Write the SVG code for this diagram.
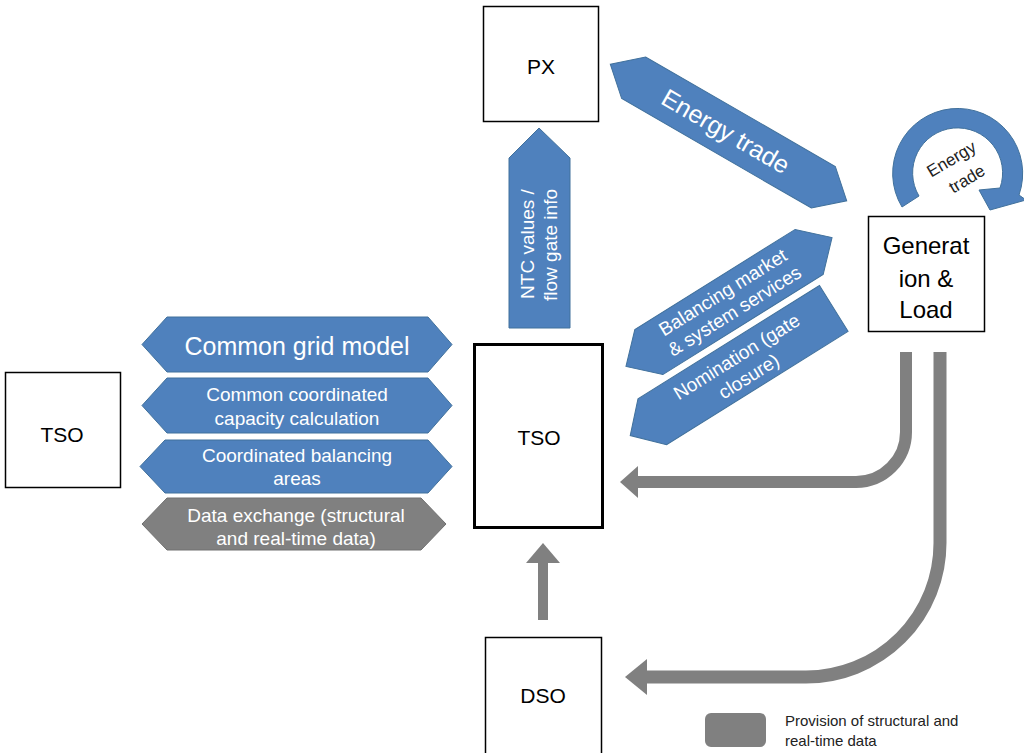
<svg xmlns="http://www.w3.org/2000/svg" width="1024" height="753" viewBox="0 0 1024 753">
<style>
.box{fill:#fff;stroke:#000;stroke-width:1.5}
.lbl{font-family:"Liberation Sans",Arial,sans-serif;fill:#000;text-anchor:middle}
.blue{fill:#4F81BD;stroke:#41719C;stroke-width:1}
.grayhex{fill:#808080;stroke:#707070;stroke-width:1}
.wt{font-family:"Liberation Sans",Arial,sans-serif;fill:#fff;text-anchor:middle}
.dk{font-family:"Liberation Sans",Arial,sans-serif;fill:#222;text-anchor:middle}
.gline{fill:none;stroke:#808080}
.ghead{fill:#808080}
</style>
<rect width="1024" height="753" fill="#fff"/>

<g id="node-px">
<rect class="box" x="483.5" y="6.5" width="115" height="115"/>
<text class="lbl" x="541" y="74" font-size="21">PX</text>
</g>
<g id="node-tso-left">
<rect class="box" x="5.5" y="372.5" width="115" height="115"/>
<text class="lbl" x="62" y="442" font-size="21">TSO</text>
</g>
<g id="node-tso">
<rect x="474.5" y="344.5" width="128" height="183" fill="#fff" stroke="#000" stroke-width="3"/>
<text class="lbl" x="539" y="445" font-size="21">TSO</text>
</g>
<g id="node-dso">
<rect class="box" x="485.5" y="637.5" width="116" height="130"/>
<text class="lbl" x="543" y="703" font-size="21">DSO</text>
</g>
<g id="node-genload">
<rect class="box" x="868.5" y="216.5" width="116" height="115"/>
<text class="lbl" x="926" y="254" font-size="24">Generat</text>
<text class="lbl" x="926" y="287" font-size="24">ion &amp;</text>
<text class="lbl" x="926" y="318" font-size="24">Load</text>
</g>

<g id="node-common-grid-model">
<polygon class="blue" points="142,344.5 167,317 428,317 452,344.5 428,372 167,372"/>
<text class="wt" x="297" y="355" font-size="25">Common grid model</text>
</g>
<g id="node-capacity-calculation">
<polygon class="blue" points="142,405.5 167,378 428,378 452,405.5 428,433 167,433"/>
<text class="wt" x="297" y="401" font-size="19">Common coordinated</text>
<text class="wt" x="297" y="425" font-size="19">capacity calculation</text>
</g>
<g id="node-balancing-areas">
<polygon class="blue" points="140,466.5 165,440 428,440 452,466.5 428,493 165,493"/>
<text class="wt" x="297" y="462" font-size="19">Coordinated balancing</text>
<text class="wt" x="297" y="485" font-size="19">areas</text>
</g>
<g id="node-data-exchange">
<polygon class="grayhex" points="142,524 167,498 421,498 446,524 421,550 167,550"/>
<text class="wt" x="296" y="522" font-size="19">Data exchange (structural</text>
<text class="wt" x="296" y="545" font-size="19">and real-time data)</text>
</g>

<g id="connectors">
<g id="ntc">
<polygon class="blue" points="539,128 570,158 570,328 509,328 509,158"/>
<text class="wt" font-size="19" transform="translate(534,244) rotate(-90)">NTC values /</text>
<text class="wt" font-size="19" transform="translate(557,245) rotate(-90)">flow gate info</text>
</g>
<g id="energy-trade" transform="translate(728.5,132.5) rotate(30)">
<polygon class="blue" points="-136.5,0 -109.5,-24 109.5,-24 136.5,0 109.5,24 -109.5,24"/>
<text class="wt" x="-3" y="9" font-size="25">Energy trade</text>
</g>
<g id="balancing-market" transform="translate(729,302) rotate(-32)">
<polygon class="blue" points="-121.5,0 -94.5,-26.5 94.5,-26.5 121.5,0 94.5,26.5 -94.5,26.5"/>
<text class="wt" x="0" y="-5" font-size="19">Balancing market</text>
<text class="wt" x="0" y="17" font-size="19">&amp; system services</text>
</g>
<g id="nomination" transform="translate(732,372) rotate(-32)">
<polygon class="blue" points="-120,0 -94,-27 120,-27 120,27 -94,27"/>
<text class="wt" x="12" y="-4" font-size="19">Nomination (gate</text>
<text class="wt" x="12" y="19" font-size="19">closure)</text>
</g>
<g id="energy-trade-loop">
<path class="blue" d="M902,207 A65,65 0 1 1 1019,195 L1026,200 L990,210 L979,190 L1000,188 A45,45 0 1 0 919,196 Z"/>
<g transform="translate(958,170) rotate(-31)">
<text class="dk" x="0" y="-7" font-size="17">Energy</text>
<text class="dk" x="3" y="18" font-size="17">trade</text>
</g>
</g>
<g id="gen-to-tso">
<path class="gline" stroke-width="12" d="M906,352 V432 A50,50 0 0 1 856,482 H636"/>
<polygon class="ghead" points="620,482 638,466 638,498"/>
</g>
<g id="gen-to-dso">
<path class="gline" stroke-width="13" d="M940,352 V543 A134,134 0 0 1 806,677 H645"/>
<polygon class="ghead" points="625,677 647,659 647,695"/>
</g>
<g id="dso-to-tso">
<path class="gline" stroke-width="10" d="M543,620 V561"/>
<polygon class="ghead" points="543,543 526,563 560,563"/>
</g>
</g>

<g id="legend">
<rect x="705" y="713" width="61" height="34" rx="6" fill="#808080"/>
<text x="785" y="726" font-family="'Liberation Sans',Arial,sans-serif" font-size="15" fill="#222">Provision of structural and</text>
<text x="785" y="746" font-family="'Liberation Sans',Arial,sans-serif" font-size="15" fill="#222">real-time data</text>
</g>
</svg>
